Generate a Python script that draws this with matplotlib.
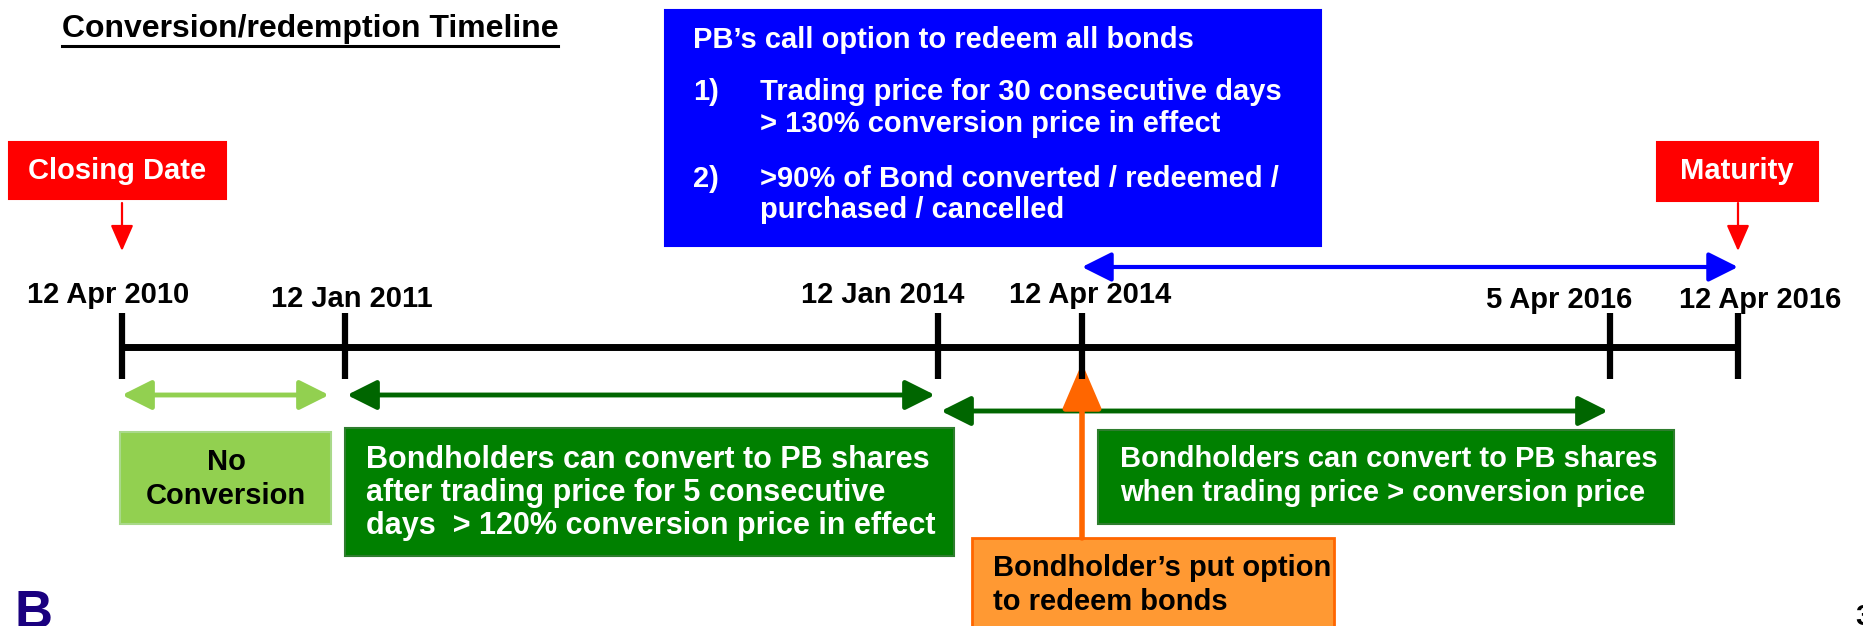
import matplotlib

matplotlib.use("Agg")
import matplotlib.pyplot as plt
from matplotlib.patches import Rectangle

plt.rcParams["font.family"] = ["Liberation Sans", "DejaVu Sans"]
plt.rcParams["font.weight"] = "bold"

# timeline milestones (schematic positions along the bar, in pixels)
dates = ["12 Apr 2010", "12 Jan 2011", "12 Jan 2014", "12 Apr 2014", "5 Apr 2016", "12 Apr 2016"]
date_x = [122, 345, 938, 1082, 1610, 1738]
label_x = [108, 352, 883, 1090, 1559, 1760]
label_y = [303, 307, 303, 303, 308, 308]

title = "Conversion/redemption Timeline"
call_head = "PB\u2019s call option to redeem all bonds"
call_items = [
    ("1)", ["Trading price for 30 consecutive days", "> 130% conversion price in effect"]),
    ("2)", [">90% of Bond converted / redeemed /", "purchased / cancelled"]),
]
no_conv = "No\nConversion"
conv_early = ["Bondholders can convert to PB shares",
              "after trading price for 5 consecutive",
              "days  > 120% conversion price in effect"]
conv_late = ["Bondholders can convert to PB shares",
             "when trading price > conversion price"]
put_text = ["Bondholder\u2019s put option", "to redeem bonds"]

BLUE = "#0000FF"
RED = "#FF0000"
DKGREEN = "#008000"
ARROWGREEN = "#006600"
LTGREEN = "#92D050"
ORANGE = "#FF9933"
ORANGE_EDGE = "#FF6600"

W, H = 1863, 626
fig = plt.figure(figsize=(W / 100, H / 100), dpi=100)
ax = fig.add_axes([0, 0, 1, 1])
ax.set_xlim(0, W)
ax.set_ylim(H, 0)
ax.axis("off")

FS = 21


def box(x0, y0, x1, y1, face, edge=None, lw=1.5):
    ax.add_patch(Rectangle((x0, y0), x1 - x0, y1 - y0, facecolor=face,
                           edgecolor=edge or face, linewidth=lw, zorder=2))


def arrow(x0, y0, x1, y1, color, lw, style="<|-|>", hl=0.9, hw=0.45):
    ax.annotate("", xy=(x1, y1), xytext=(x0, y0),
                arrowprops=dict(arrowstyle=f"{style},head_length={hl},head_width={hw}",
                                color=color, lw=lw, shrinkA=0, shrinkB=0,
                                mutation_scale=20), zorder=3)


# title
ax.text(62, 37, title, fontsize=23, ha="left", va="baseline", color="black")
ax.plot([62, 558], [46, 46], color="black", lw=2.2)

# main timeline
ax.plot([date_x[0], date_x[-1]], [347, 347], color="black", lw=5, solid_capstyle="butt", zorder=4)
for x in date_x:
    ax.plot([x, x], [313, 379], color="black", lw=4.5, solid_capstyle="butt", zorder=4)
for lab, x, y in zip(dates, label_x, label_y):
    ax.text(x, y, lab, fontsize=FS, ha="center", va="baseline")

# closing date / maturity markers
box(9, 142, 226, 199, RED)
ax.text(117, 171, "Closing Date", fontsize=FS, color="white", ha="center", va="center")
arrow(date_x[0], 203, date_x[0], 251, RED, 1.6, style="-|>", hl=0.8, hw=0.35)

box(1657, 142, 1818, 201, RED)
ax.text(1737, 171, "Maturity", fontsize=FS, color="white", ha="center", va="center")
arrow(date_x[-1], 203, date_x[-1], 251, RED, 1.6, style="-|>", hl=0.8, hw=0.35)

# call option box
box(665, 10, 1321, 246, BLUE)
ax.text(693, 40, call_head, fontsize=FS, color="white", va="center")
yy = [(92, 124), (179, 210)]
for (num, lines), ys in zip(call_items, yy):
    ax.text(693, ys[0], num, fontsize=FS, color="white", va="center")
    for line, y in zip(lines, ys):
        ax.text(760, y, line, fontsize=FS, color="white", va="center")
arrow(date_x[3], 267, date_x[-1], 267, BLUE, 3)

# conversion periods
arrow(date_x[0], 395, 329, 395, LTGREEN, 3.5)
arrow(347, 395, 935, 395, ARROWGREEN, 3.5)
arrow(941, 411, 1608, 411, ARROWGREEN, 3.5)

box(120, 432, 331, 524, LTGREEN, "#A9D98A")
ax.text(226, 479, no_conv, fontsize=FS, ha="center", va="center", linespacing=1.25)

box(345, 428, 954, 556, DKGREEN, "#2E7D2E")
for line, y in zip(conv_early, [460, 493, 526]):
    ax.text(366, y, line, fontsize=22, color="white", va="center")

box(1098, 430, 1674, 524, DKGREEN, "#2E7D2E")
for line, y in zip(conv_late, [459, 493]):
    ax.text(1120, y, line, fontsize=FS, color="white", va="center")

# put option
box(972, 538, 1334, 640, ORANGE, ORANGE_EDGE, lw=2)
for line, y in zip(put_text, [568, 602]):
    ax.text(993, y, line, fontsize=FS, va="center")
arrow(date_x[3], 538, date_x[3], 363, ORANGE_EDGE, 4, style="-|>", hl=1.4, hw=0.6)

# logo and page number (cut off at the edge, as in the source slide)
ax.text(14, 589, "B", fontsize=38, color="#1A007F", va="top", ha="left")
ax.text(1855, 603, "3", fontsize=FS, va="top", ha="left")

fig.savefig("out.png", dpi=100)
